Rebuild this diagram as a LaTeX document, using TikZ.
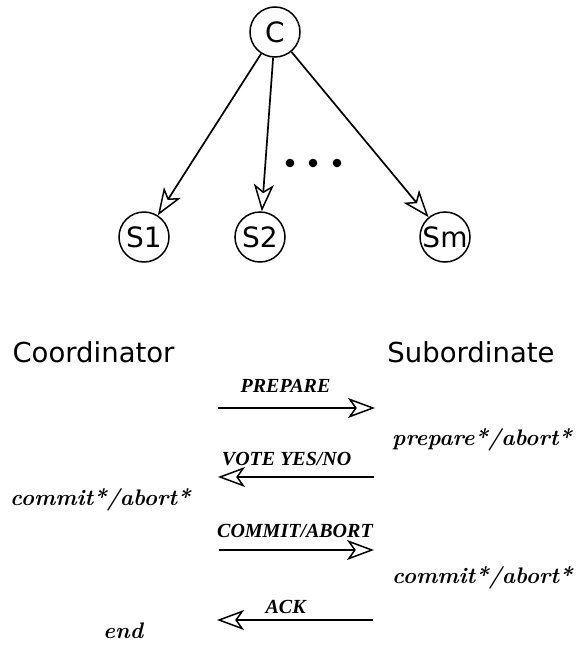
\documentclass[tikz,border=0pt]{standalone}
\usepackage{fontspec}
\newfontfamily\nodefont{DejaVu Sans}
\newfontfamily\msgserif{Liberation Serif}
\usetikzlibrary{arrows.meta}
% handwritten state names
\newcommand{\hand}[1]{{\fontsize{22.5}{26}\selectfont\bfseries\itshape #1}}
\newcommand{\msgfont}{\msgserif\fontsize{20}{23}\selectfont\bfseries\itshape}
\tikzset{
  site/.style={circle, draw, line width=1.5pt, minimum size=50pt, inner sep=0pt,
    font=\nodefont\fontsize{28}{30}\selectfont},
  role/.style={anchor=base, font=\nodefont\fontsize{27.5}{30}\selectfont},
  state/.style={anchor=base west, inner sep=0pt},
  msg/.style={line width=1.7pt},
  lbl/.style={anchor=base, inner sep=0pt, font=\msgfont}
}
\begin{document}
\begin{tikzpicture}[x=1pt, y=-1pt, >={Stealth[open, length=27pt, width=20pt, inset=7pt, line width=1.5pt]}]
    \useasboundingbox (0,0) rectangle (579,645);

    % Tree of sites
    \node[site] (C) at (275,32) {C};
    \node[site] (S1) at (144,237) {S1};
    \node[site] (S2) at (260,237) {S2};
    \node[site] (Sm) at (445,237) {Sm};
    \draw[msg, ->] (C) -- (S1);
    \draw[msg, ->] (C) -- (S2);
    \draw[msg, ->] (C) -- (Sm);
    \foreach \x in {290,313,337}
        \fill (\x,163) circle (4.3pt);

    % Roles
    \node[role] (coord) at (93.5,362) {Coordinator};
    \node[role] (sub) at (471,362) {Subordinate};

    % Message ends
    \coordinate (a1) at (218,408);
    \coordinate (b1) at (375,408);
    \coordinate (a2) at (218,477);
    \coordinate (b2) at (374,477);
    \coordinate (a3) at (219,550);
    \coordinate (b3) at (374,550);
    \coordinate (a4) at (217,620);
    \coordinate (b4) at (373,620);

    % Messages
    \draw[msg, ->] (a1) -- (b1) node[lbl, pos=0.43, yshift=16pt] {PREPARE};
    \draw[msg, ->] (b2) -- (a2) node[lbl, pos=0.56, yshift=12pt] {VOTE YES/NO};
    \draw[msg, ->] (a3) -- (b3) node[lbl, pos=0.49, yshift=13pt] {COMMIT/ABORT};
    \draw[msg, ->] (b4) -- (a4) node[lbl, pos=0.56, yshift=7pt] {ACK};

    % States
    \node[state] (prep) at (392,445) {\hand{prepare*/abort*}};
    \node[state] (cdone) at (10,505) {\hand{commit*/abort*}};
    \node[state] (sdone) at (392,583) {\hand{commit*/abort*}};
    \node[state] (fin) at (103,638) {\hand{end}};
\end{tikzpicture}
\end{document}
